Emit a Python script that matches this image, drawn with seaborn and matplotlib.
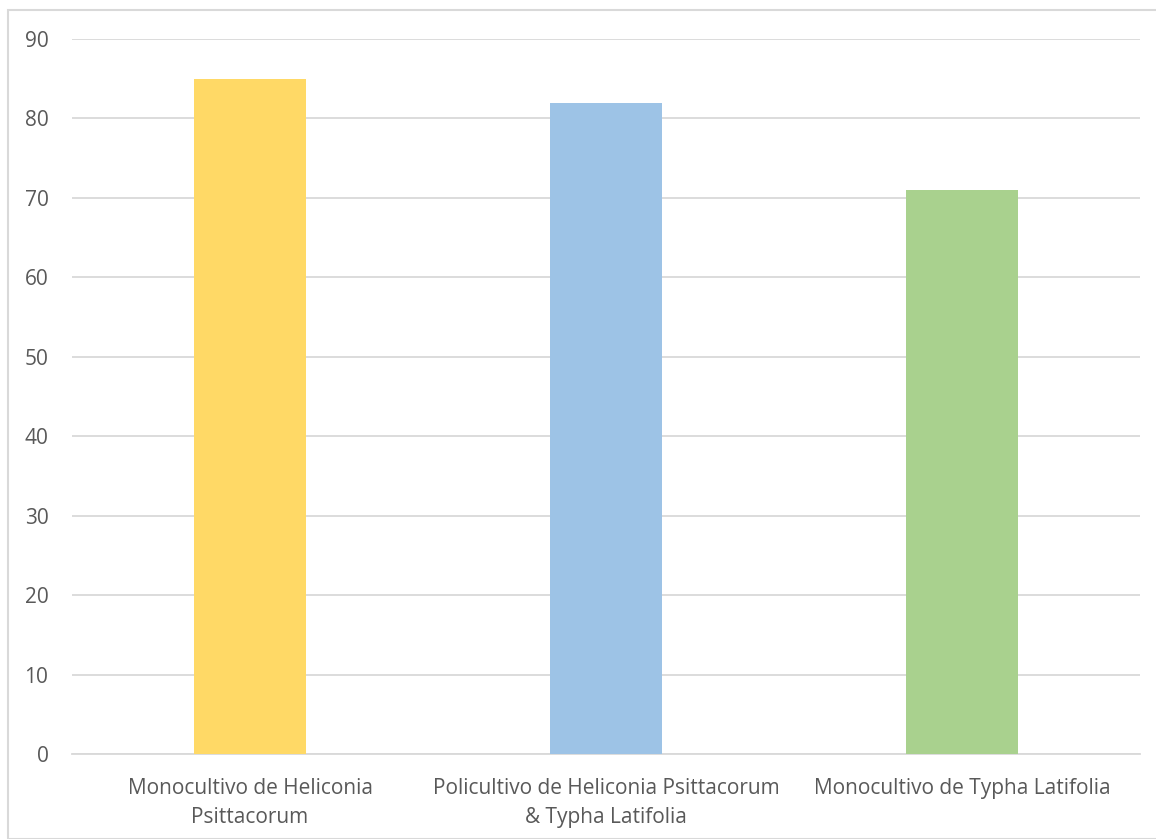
import matplotlib
matplotlib.use("Agg")
import matplotlib.pyplot as plt
import seaborn as sns
import pandas as pd
from matplotlib.patches import Rectangle

categories = ["Monocultivo de Heliconia\nPsittacorum",
              "Policultivo de Heliconia Psittacorum\n& Typha Latifolia",
              "Monocultivo de Typha Latifolia"]
values = [85, 82, 71]
colors = ["#FFD966", "#9DC3E6", "#A9D18E"]
yticks = [0, 10, 20, 30, 40, 50, 60, 70, 80, 90]

sns.set_style("white")
plt.rcParams['font.family'] = ['Open Sans', 'DejaVu Sans']

df = pd.DataFrame({"cat": categories, "val": values})

fig = plt.figure(figsize=(11.56, 8.39), dpi=100)
ax = fig.add_axes([72/1156, 85/839, 1068/1156, 715/839])
sns.barplot(data=df, x="cat", y="val", hue="cat", palette=colors,
            width=0.315, saturation=1, linewidth=0, legend=False, ax=ax, zorder=3)

ax.set_ylim(0, 90)
ax.set_yticks(yticks)
ax.yaxis.grid(True, color="#D9D9D9", linewidth=1.3, zorder=0)
ax.set_axisbelow(True)
for s in ["top", "right", "left"]:
    ax.spines[s].set_visible(False)
ax.spines["bottom"].set_color("#D9D9D9")
ax.spines["bottom"].set_linewidth(1.3)
ax.set_xlabel("")
ax.set_ylabel("")
ax.tick_params(axis="both", length=0, labelsize=15, labelcolor="#595959")
ax.tick_params(axis="x", pad=17)
ax.tick_params(axis="y", pad=17)
for lbl in ax.get_xticklabels():
    lbl.set_linespacing(1.5)

fig.patches.append(Rectangle((8/1156, 0), 1.0, 1 - 10/839, transform=fig.transFigure,
                             fill=False, edgecolor="#D9D9D9", linewidth=1.5))

fig.savefig("out.png", dpi=100, facecolor="white")
